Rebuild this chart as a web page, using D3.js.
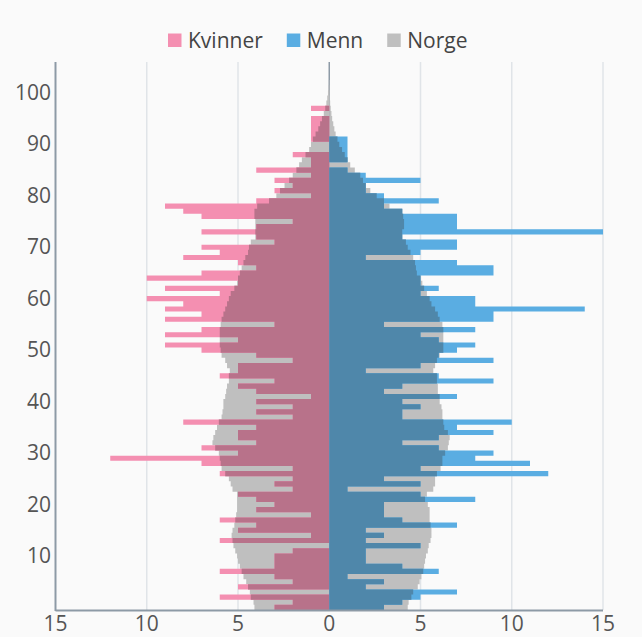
<!DOCTYPE html>
<html>
<head>
<meta charset="utf-8">
<script src="https://cdn.jsdelivr.net/npm/d3@7"></script>
<style>
  body { margin: 0; background: #fafafa; }
  text { font-family: "Open Sans", sans-serif; }
</style>
</head>
<body>
<div id="chart"></div>
<script>
// one entry per age, starting at 0
const kvinner = [3,2,6,0,5,2,3,6,3,3, 3,2,0,6,1,5,4,6,1,4, 3,4,5,2,3,2,6,2,7,12,
  5,7,4,5,5,4,8,2,4,2, 4,1,4,5,3,6,5,5,2,4, 7,9,5,9,7,3,9,7,9,8,
  10,6,9,5,10,7,4,5,8,6, 7,3,4,7,4,2,7,8,9,4, 1,3,2,3,1,4,1,1,2,0,
  0,1,1,1,1,1,0,1,0,0, 0,0,0];
const menn = [3,4,5,7,2,3,1,6,4,2, 2,2,5,2,3,2,7,4,3,3, 3,8,5,1,5,3,12,5,11,8,
  9,6,4,6,9,7,10,4,4,5, 4,7,3,4,9,6,2,5,9,6, 7,8,6,5,8,3,9,9,14,8,
  8,5,6,5,5,9,9,7,2,5, 7,7,4,15,7,7,7,4,3,6, 3,2,2,5,2,1,0,1,1,1,
  1,1,0,0,0,0,0,0,0,0, 0,0,0];
const norgeKvinner = [4.1,4.15,4.3,4.35,4.45,4.55,4.7,4.8,4.9,5.0,
  5.05,5.15,5.25,5.3,5.35,5.3,5.2,5.15,5.1,5.05,
  5.05,5.05,5.05,5.3,5.4,5.5,5.7,5.9,5.95,6.0,
  6.05,6.25,6.4,6.35,6.25,6.15,6.05,5.9,5.85,5.8,
  5.8,5.7,5.65,5.6,5.5,5.5,5.45,5.6,5.7,5.9,
  5.95,6.0,6.0,6.0,6.0,5.95,5.9,5.8,5.7,5.6,
  5.5,5.4,5.2,5.05,5.0,4.9,4.8,4.7,4.6,4.45,
  4.4,4.3,4.05,4.05,4.05,4.05,4.1,4.1,3.95,3.3,
  2.9,2.7,2.45,2.2,2.0,1.8,1.65,1.5,1.3,1.1,
  1.0,0.9,0.75,0.6,0.5,0.4,0.3,0.22,0.16,0.11,
  0.07,0.04,0.02];
const norgeMenn = [4.3,4.35,4.5,4.6,4.85,4.95,5.05,5.15,5.2,5.25,
  5.3,5.4,5.45,5.55,5.6,5.6,5.55,5.5,5.5,5.5,
  5.4,5.25,5.35,5.7,5.8,5.8,5.9,6.1,6.2,6.2,
  6.35,6.5,6.55,6.6,6.5,6.3,6.25,6.2,6.2,6.15,
  6.05,6.05,5.95,5.95,5.9,5.9,5.7,5.8,5.9,6.05,
  6.25,6.25,6.25,6.25,6.25,6.2,6.05,5.95,5.8,5.6,
  5.5,5.35,5.2,5.1,5.0,4.8,4.75,4.7,4.6,4.45,
  4.3,4.2,4.0,4.0,4.1,4.1,4.05,4.0,3.3,3.0,
  2.6,2.25,2.0,1.85,1.7,1.4,1.15,1.0,0.85,0.7,
  0.55,0.45,0.35,0.28,0.22,0.16,0.12,0.08,0.05,0.04,
  0.03,0.02,0.01];
const yTicks = [10,20,30,40,50,60,70,80,90,100];
const xTicks = [-15,-10,-5,0,5,10,15];
const legendNames = ["Kvinner","Menn","Norge"];
const legendColors = ["#f48fb1","#5aade2","#bfbfbf"];

const width = 642, height = 637;
const svg = d3.select("#chart").append("svg")
    .attr("width", width)
    .attr("height", height);

svg.append("rect").attr("width", width).attr("height", height).attr("fill", "#fafafa");

const x = d3.scaleLinear().domain([-15, 15]).range([55.5, 603]);
const y = d3.scaleLinear().domain([-0.5, 106]).range([610, 62]);

// grid
svg.append("g").selectAll("line")
    .data(xTicks.filter(d => d !== -15 && d !== 0))
    .join("line")
    .attr("x1", d => x(d)).attr("x2", d => x(d))
    .attr("y1", y(106)).attr("y2", y(-0.5))
    .attr("stroke", "#e0e4e8").attr("stroke-width", 1.5);

svg.append("line")
    .attr("x1", x(0)).attr("x2", x(0))
    .attr("y1", y(106)).attr("y2", y(-0.5))
    .attr("stroke", "#8d9aa6").attr("stroke-width", 1.5);

const rows = kvinner.map((k, i) => ({
    age: i, k: k, m: menn[i], nk: norgeKvinner[i], nm: norgeMenn[i]
}));

// each series is one path of stacked rects, so rows join without seams
function bars(cls, color, left, val) {
    const p = d3.path();
    rows.filter(d => val(d) > 0).forEach(d => {
        const x1 = left ? x(-val(d)) : x(val(d));
        const x0 = Math.min(x(0), x1);
        p.rect(x0, y(d.age + 0.5), Math.abs(x1 - x(0)), y(d.age - 0.5) - y(d.age + 0.5));
    });
    svg.append("path")
        .attr("class", cls)
        .attr("d", p.toString())
        .attr("fill", color);
}

bars("norge-k", "#bfbfbf", true, d => d.nk);
bars("norge-m", "#bfbfbf", false, d => d.nm);
bars("kvinner", "#f48fb1", true, d => d.k);
bars("menn", "#5aade2", false, d => d.m);
// where a bar overlaps Norge
bars("kvinner-over", "#b8728a", true, d => Math.min(d.k, d.nk));
bars("menn-over", "#4f87aa", false, d => Math.min(d.m, d.nm));

// axes lines
svg.append("line")
    .attr("x1", x(-15)).attr("x2", x(-15))
    .attr("y1", y(106)).attr("y2", y(-0.5) + 1)
    .attr("stroke", "#8d9aa6").attr("stroke-width", 2);
svg.append("line")
    .attr("x1", x(-15)).attr("x2", x(15))
    .attr("y1", y(-0.5) + 0.5).attr("y2", y(-0.5) + 0.5)
    .attr("stroke", "#8d9aa6").attr("stroke-width", 2);

// tick labels
svg.append("g").selectAll("text")
    .data(yTicks)
    .join("text")
    .attr("x", 51)
    .attr("y", d => y(d) + 7)
    .attr("text-anchor", "end")
    .attr("fill", "#555")
    .style("font-size", "21px")
    .text(d => d);

svg.append("g").selectAll("text")
    .data(xTicks)
    .join("text")
    .attr("x", d => x(d))
    .attr("y", 631)
    .attr("text-anchor", "middle")
    .attr("fill", "#555")
    .style("font-size", "21px")
    .text(d => Math.abs(d));

// legend
const legend = svg.append("g");
let lx = 168;
legendNames.forEach((name, i) => {
    legend.append("rect")
        .attr("x", lx).attr("y", 33.5)
        .attr("width", 13.5).attr("height", 13.5)
        .attr("fill", legendColors[i]);
    const t = legend.append("text")
        .attr("x", lx + 20)
        .attr("y", 48)
        .attr("fill", "#444")
        .style("font-size", "21px")
        .text(name);
    lx += 20 + t.node().getComputedTextLength() + 24;
});
</script>
</body>
</html>
